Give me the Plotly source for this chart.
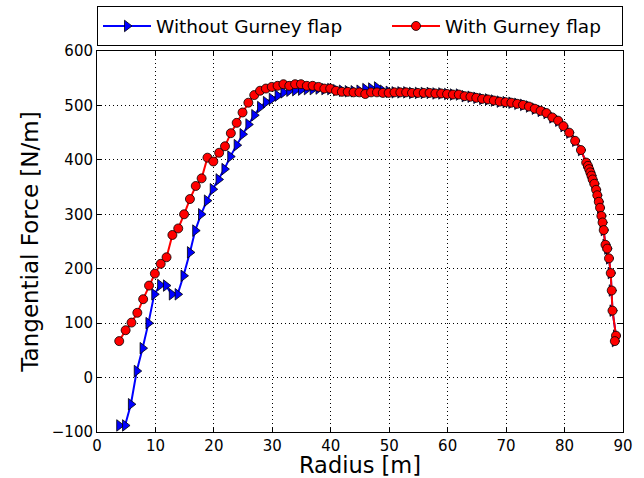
import plotly.graph_objects as go

# Radius [m] for both series
radius_without = [3.8, 4.8, 5.8, 6.8, 7.8, 8.8, 9.8, 10.8, 11.8, 12.8, 13.8, 14.8, 15.9, 16.8,
                  17.8, 18.8, 19.8, 20.8, 21.8, 22.8, 23.9, 24.9, 25.9, 26.9, 27.9, 28.9, 29.9,
                  30.9, 31.9, 32.9, 33.9, 34.9, 35.9, 36.9, 37.9, 38.9, 39.9, 40.9, 41.9, 42.9,
                  43.9, 44.9, 45.9, 46.9, 47.9, 48.9, 49.9, 50.9, 51.9, 52.9, 53.9, 54.9, 55.9,
                  56.9, 57.9, 58.9, 59.9, 60.9, 61.9, 62.9, 63.9, 64.9, 65.9, 66.9, 67.9, 68.9,
                  69.9, 70.9, 71.9, 72.9, 73.9, 74.9, 75.9, 76.9, 77.9, 78.9, 79.8, 80.8, 81.8,
                  82.8, 83.7, 84.0, 84.2, 84.4, 84.6, 84.8, 85.1, 85.4, 85.6, 85.85, 86.07, 86.3,
                  86.5, 86.7, 87.0, 87.3, 87.6, 87.9, 88.07, 88.2, 88.8, 88.6]
force_without = [-88, -88, -49, 12, 54, 100, 153, 170, 169, 153, 153, 187, 230, 270,
                 300, 325, 346, 364, 383, 406, 427, 447, 465, 482, 497, 506, 512,
                 518, 524, 527, 528, 529, 530, 530, 531, 530, 530, 528, 527, 526,
                 526, 527, 530, 531, 533, 527, 525, 524, 524, 524, 523, 523, 523,
                 523, 522, 522, 521, 520, 520, 517, 516, 514, 512, 511, 509, 507,
                 506, 505, 503, 501, 498, 494, 490, 486, 478, 472, 462, 450, 435,
                 418, 395, 389, 383, 377, 371, 364, 356, 345, 335, 323, 312, 297,
                 285, 271, 244, 237, 219, 192, 160, 123, 77, 67]

radius_with = [3.8, 4.9, 5.9, 6.9, 7.9, 8.9, 9.9, 10.9, 11.9, 12.9, 13.9, 14.9, 15.9, 16.9,
               17.9, 18.9, 19.9, 20.9, 21.9, 22.9, 23.9, 24.9, 25.9, 26.9, 27.9, 28.9, 29.9,
               30.9, 31.9, 32.9, 33.9, 34.9, 35.9, 36.9, 37.9, 38.9, 39.9, 40.9, 41.9, 42.9,
               43.9, 44.9, 45.9, 46.9, 47.9, 48.9, 49.9, 50.9, 51.9, 52.9, 53.9, 54.9, 55.9,
               56.9, 57.9, 58.9, 59.9, 60.9, 61.9, 62.9, 63.9, 64.9, 65.9, 66.9, 67.9, 68.9,
               69.9, 70.9, 71.9, 72.9, 73.9, 74.9, 75.9, 76.9, 77.9, 78.9, 79.8, 80.8, 81.8,
               82.8, 83.7, 84.0, 84.2, 84.4, 84.6, 84.8, 85.1, 85.4, 85.6, 85.85, 86.07, 86.3,
               86.5, 86.7, 87.0, 87.3, 87.6, 87.9, 88.07, 88.2, 88.8, 88.6]
force_with = [67, 87, 101, 119, 144, 169, 191, 209, 221, 262, 274, 300, 328, 352,
              366, 404, 397, 413, 425, 449, 468, 487, 505, 519, 527, 531, 534,
              536, 539, 536, 539, 539, 536, 536, 534, 531, 531, 527, 525, 525,
              524, 524, 521, 524, 524, 523, 523, 524, 524, 524, 523, 523, 523,
              523, 522, 522, 521, 520, 520, 517, 516, 514, 512, 511, 509, 507,
              506, 505, 503, 501, 498, 494, 490, 486, 478, 472, 462, 450, 435,
              418, 395, 389, 383, 377, 371, 364, 356, 345, 335, 323, 312, 297,
              285, 271, 244, 237, 219, 192, 160, 123, 77, 67]

x_ticks = list(range(0, 91, 10))
y_ticks = list(range(-100, 601, 100))

FONT = "DejaVu Sans"

fig = go.Figure()
fig.add_trace(go.Scatter(
    x=radius_without, y=force_without, mode="lines+markers", name="Without Gurney flap",
    line=dict(color="#0000ff", width=2), legendwidth=226,
    marker=dict(symbol="triangle-right", size=10, color="#0000ff",
                line=dict(color="black", width=0.8)),
))
fig.add_trace(go.Scatter(
    x=radius_with, y=force_with, mode="lines+markers", name="With Gurney flap",
    line=dict(color="#ff0000", width=2), legendwidth=172,
    marker=dict(symbol="circle", size=9, color="#ff0000",
                line=dict(color="black", width=0.8)),
))

axis_common = dict(
    showline=True, linecolor="black", linewidth=1, mirror="ticks",
    ticks="inside", ticklen=5, tickcolor="black", tickwidth=1,
    showgrid=True, gridcolor="black", gridwidth=1, griddash="1px,3px",
    zeroline=False, tickfont=dict(family=FONT, size=15, color="black"),
    automargin=True,
)

fig.update_xaxes(range=[0, 90], tickvals=x_ticks,
                 title=dict(text="Radius [m]", font=dict(family=FONT, size=22.5, color="black"),
                            standoff=6),
                 **axis_common)
fig.update_yaxes(range=[-100, 600], tickvals=y_ticks,
                 title=dict(text="Tangential Force [N/m]",
                            font=dict(family=FONT, size=23, color="black"), standoff=6),
                 **axis_common)

fig.update_layout(
    width=644, height=478,
    margin=dict(l=97, r=21, t=51, b=46, autoexpand=False),
    plot_bgcolor="white", paper_bgcolor="white",
    font=dict(family=FONT, color="black"),
    legend=dict(orientation="h", x=0, xanchor="left", y=1.012, yanchor="bottom",
                bordercolor="black", borderwidth=1, bgcolor="white",
                font=dict(family=FONT, size=18.5, color="black"),
                itemwidth=48),
)

fig.write_html("out.html")
